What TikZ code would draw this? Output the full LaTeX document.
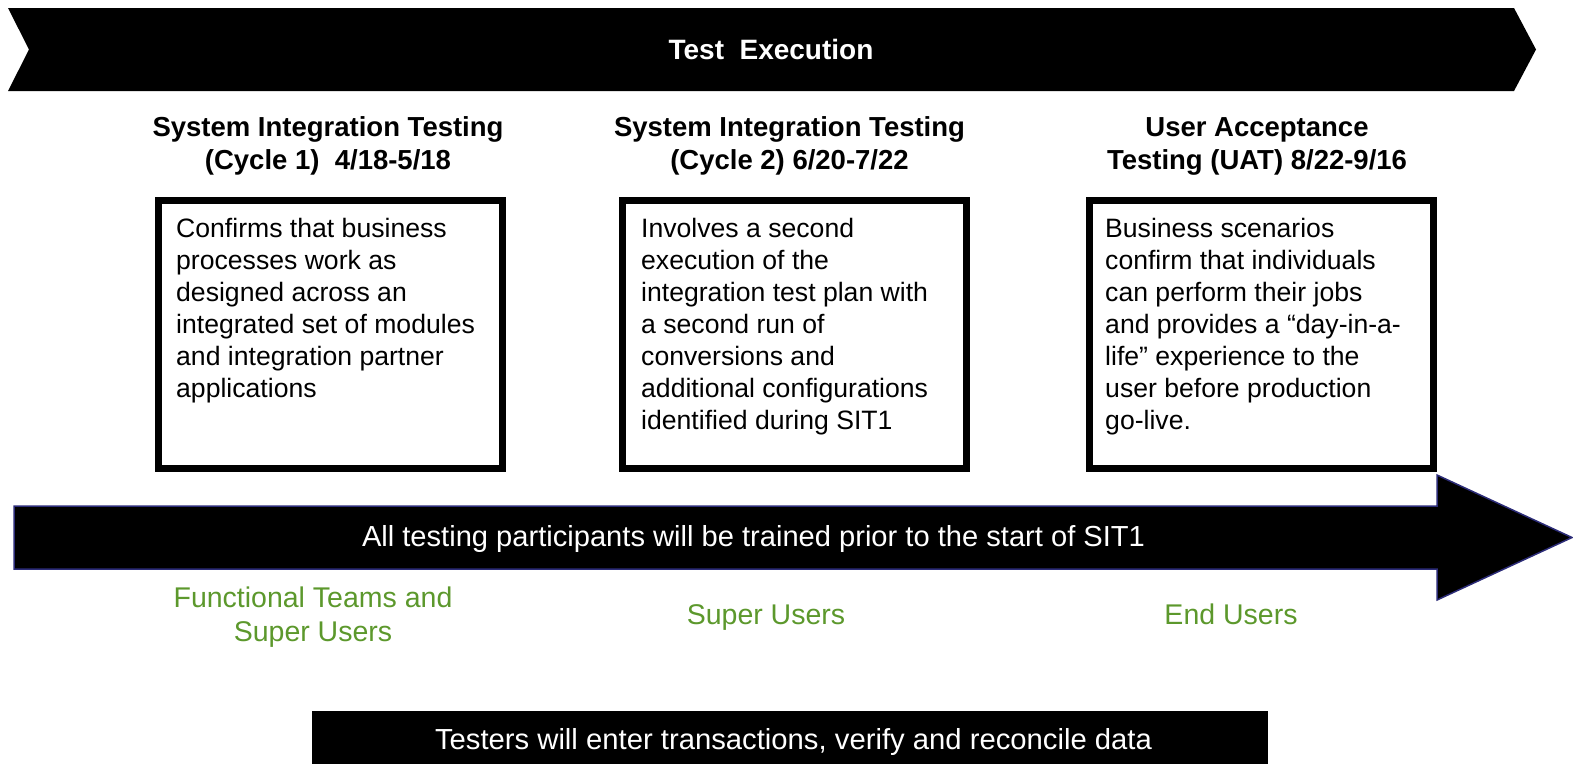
\documentclass[tikz,border=0pt]{standalone}
\usepackage{fontspec}
\setmainfont{Liberation Sans}
\usepackage{graphicx}
\definecolor{grn}{RGB}{92,152,44}
\definecolor{edgeblue}{RGB}{44,44,120}
\begin{document}
\begin{tikzpicture}[x=1pt,y=-1pt,
  boxstyle/.style={draw=black, fill=white, line width=7pt, minimum width=344pt, minimum height=268pt, inner sep=0pt},
  bodytext/.style={anchor=west, align=left, inner sep=0pt, font=\fontsize{26.6}{32}\selectfont},
  headtext/.style={align=center, inner sep=0pt, font=\fontsize{27.5}{33}\selectfont\bfseries},
  greentext/.style={align=center, inner sep=0pt, text=grn, font=\fontsize{28.5}{34}\selectfont},
  whitetext/.style={text=white, inner sep=0pt}]
\useasboundingbox (0,0) rectangle (1573,764);

% top chevron
\fill[black] (8,8) -- (1514,8) -- (1536,49.5) -- (1514,91) -- (8,91) -- (29,49.5) -- cycle;
\node[whitetext, font=\fontsize{28}{34}\selectfont\bfseries] (title) at (771,49.5) {Test\ \ Execution};

% headings
\node[headtext] (h1) at (328,146) {System Integration Testing\\(Cycle 1)\ \ 4/18-5/18};
\node[headtext] (h2) at (789.5,146) {System Integration Testing\\(Cycle 2) 6/20-7/22};
\node[headtext] (h3) at (1257,146) {User Acceptance\\Testing (UAT) 8/22-9/16};

% boxes
\node[boxstyle] (box1) at (330.5,334.5) {};
\node[boxstyle] (box2) at (794,334.5) {};
\node[boxstyle] (box3) at (1261,334.5) {};

\node[bodytext] (t1) at (176,311) {Confirms that business\\processes work as\\designed across an\\integrated set of modules\\and integration partner\\applications};
\node[bodytext] (t2) at (641,327) {Involves a second\\execution of the\\integration test plan with\\a second run of\\conversions and\\additional configurations\\identified during SIT1};
\node[bodytext] (t3) at (1105,327) {Business scenarios\\confirm that individuals\\can perform their jobs\\and provides a “day-in-a-\\life” experience to the\\user before production\\go-live.};

% big arrow
\draw[draw=edgeblue, line width=1.5pt, fill=black] (14,506) -- (1437,506) -- (1437,475) -- (1572,537.5) -- (1437,600) -- (1437,569) -- (14,569) -- cycle;
\node[whitetext] (arrowtext) at (753.5,539) {\resizebox{783pt}{\height}{\fontsize{29}{34}\selectfont All testing participants will be trained prior to the start of SIT1}};

% green labels
\node[greentext] (g1) at (313,617) {Functional Teams and\\Super Users};
\node[greentext] (g2) at (766,617) {Super Users};
\node[greentext] (g3) at (1231,614.5) {End Users};

% bottom bar
\node[fill=black, inner sep=0pt, minimum width=956pt, minimum height=53pt] (bar) at (790,737.5) {};
\node[whitetext] (bartext) at (793.5,742) {\resizebox{717pt}{\height}{\fontsize{29}{34}\selectfont Testers will enter transactions, verify and reconcile data}};
\end{tikzpicture}
\end{document}
